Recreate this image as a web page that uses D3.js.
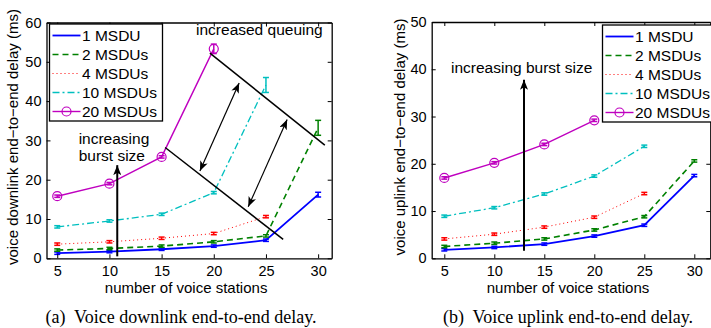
<!DOCTYPE html>
<html>
<head>
<meta charset="utf-8">
<script src="https://cdn.jsdelivr.net/npm/d3@7"></script>
<style>
  body { margin: 0; background: #fff; }
  svg text { font-family: "Liberation Sans", Arial, sans-serif; fill: #000; }
  svg text.caption { font-family: "Liberation Serif", "Times New Roman", serif; white-space: pre; }
</style>
</head>
<body>
<svg id="chart" width="711" height="328"></svg>
<script>
// number of voice stations on the x axis
const stations = [5, 10, 15, 20, 25, 30];
const seriesNames = ['1 MSDU', '2 MSDUs', '4 MSDUs', '10 MSDUs', '20 MSDUs'];

// (a) downlink delay (ms), null = not plotted
const down1 = [1.3, 1.7, 2.3, 3.1, 4.6, 16.2];
const down2 = [2.1, 2.5, 3.1, 4.2, 5.7, 33.2];
const down4 = [3.6, 4.2, 5.1, 6.3, 10.6, null];
const down10 = [8.0, 9.5, 11.2, 16.7, 44.1, null];
const down20 = [15.8, 19.0, 25.8, 53.3, null, null];
// half-width of the confidence bars (ms)
const downErr1 = [0.3, 0.3, 0.3, 0.3, 0.3, 0.6];
const downErr2 = [0.3, 0.3, 0.3, 0.3, 0.3, 1.9];
const downErr4 = [0.3, 0.3, 0.3, 0.3, 0.3, null];
const downErr10 = [0.3, 0.3, 0.3, 0.3, 1.9, null];
const downErr20 = [0.3, 0.3, 0.3, 1.2, null, null];

// (b) uplink delay (ms)
const up1 = [1.8, 2.3, 3.0, 4.7, 7.0, 17.5];
const up2 = [2.5, 3.2, 4.1, 6.0, 8.8, 20.6];
const up4 = [4.1, 5.1, 6.6, 8.7, 13.7, null];
const up10 = [8.9, 10.7, 13.6, 17.4, 23.7, null];
const up20 = [17.0, 20.2, 24.1, 29.2, null, null];
const upErr = [0.25, 0.25, 0.25, 0.25, 0.25, 0.25];

const downTicks = [0, 10, 20, 30, 40, 50, 60];
const upTicks = [0, 10, 20, 30, 40, 50];

const colors = ['#0000ff', '#008000', '#ff0000', '#00bfbf', '#bf00bf'];
const dashes = [null, '6,4', '1,3', '7,3,2,3', null];
const widths = [1.8, 1.6, 1, 1.3, 1.4];
const FS = 15.5;
const TICK_FS = 14.5;

const svg = d3.select('#chart');

svg.append('defs').append('marker')
  .attr('id', 'head')
  .attr('viewBox', '0 0 10 8')
  .attr('refX', 10).attr('refY', 4)
  .attr('markerWidth', 10).attr('markerHeight', 8)
  .attr('markerUnits', 'userSpaceOnUse')
  .attr('orient', 'auto-start-reverse')
  .append('path')
  .attr('d', 'M0,0 L10,4 L0,8 L2.5,4 Z')
  .attr('fill', '#000');

function drawPanel(p) {
  const g = svg.append('g');
  const x = d3.scaleLinear().domain(p.xDomain).range([p.left, p.right]);
  const y = d3.scaleLinear().domain([0, p.yMax]).range([p.bottom, p.top]);

  // series lines
  p.series.forEach((vals, i) => {
    const pts = stations.map((s, j) => ({ s, v: vals[j], e: p.errs[i][j] }))
      .filter(d => d.v != null);
    const line = d3.line().x(d => x(d.s)).y(d => y(d.v));
    g.append('path')
      .datum(pts)
      .attr('fill', 'none')
      .attr('stroke', colors[i])
      .attr('stroke-width', widths[i])
      .attr('stroke-dasharray', dashes[i])
      .attr('d', line);

    // error bars
    const eb = g.append('g').attr('stroke', colors[i]).attr('stroke-width', 1.5);
    pts.forEach(d => {
      const y0 = y(d.v - d.e), y1 = y(d.v + d.e), cx = x(d.s);
      eb.append('line').attr('x1', cx).attr('x2', cx).attr('y1', y0).attr('y2', y1);
      eb.append('line').attr('x1', cx - 3).attr('x2', cx + 3).attr('y1', y0).attr('y2', y0);
      eb.append('line').attr('x1', cx - 3).attr('x2', cx + 3).attr('y1', y1).attr('y2', y1);
    });

    if (i === 4) {
      g.selectAll(null).data(pts).enter().append('circle')
        .attr('cx', d => x(d.s)).attr('cy', d => y(d.v)).attr('r', 4.5)
        .attr('fill', 'none').attr('stroke', colors[i]).attr('stroke-width', 1.2);
    }
  });

  // axes box with inward ticks on all sides
  const bottomAxis = d3.axisBottom(x).tickValues(stations).tickSizeInner(-4).tickSizeOuter(0).tickPadding(7.5);
  const topAxis = d3.axisTop(x).tickValues(stations).tickSizeInner(-4).tickSizeOuter(0).tickFormat('');
  const leftAxis = d3.axisLeft(y).tickValues(p.yTicks).tickSizeInner(-4).tickSizeOuter(0).tickPadding(5);
  const rightAxis = d3.axisRight(y).tickValues(p.yTicks).tickSizeInner(-4).tickSizeOuter(0).tickFormat('');

  const axes = [
    g.append('g').attr('transform', `translate(0,${p.bottom})`).call(bottomAxis),
    g.append('g').attr('transform', `translate(0,${p.top})`).call(topAxis),
    g.append('g').attr('transform', `translate(${p.left},0)`).call(leftAxis),
    g.append('g').attr('transform', `translate(${p.right},0)`).call(rightAxis)
  ];
  axes.forEach(a => {
    a.select('.domain').attr('stroke', '#000').attr('stroke-width', 1.3);
    a.selectAll('.tick line').attr('stroke', '#000');
    a.selectAll('.tick text').attr('font-size', TICK_FS).attr('font-family', null);
  });

  // axis titles
  g.append('text')
    .attr('x', (p.left + p.right) / 2 - 3).attr('y', 293)
    .attr('text-anchor', 'middle').attr('font-size', 15)
    .text('number of voice stations');
  g.append('text')
    .attr('transform', `translate(${p.yLabelX},137) rotate(-90)`)
    .attr('text-anchor', 'middle').attr('font-size', 15)
    .text(p.yLabel);

  // caption
  g.append('text').attr('class', 'caption')
    .attr('x', p.captionX).attr('y', 322.5)
    .attr('text-anchor', 'middle').attr('font-size', 18)
    .text(p.caption);

  // legend
  const lg = g.append('g').attr('transform', `translate(${p.legendX},${p.legendY})`);
  lg.append('rect').attr('width', 113).attr('height', 97)
    .attr('fill', '#fff').attr('stroke', '#000').attr('stroke-width', 1.3);
  seriesNames.forEach((name, i) => {
    const ly = 11.5 + i * 19;
    lg.append('line').attr('x1', 3).attr('x2', 31).attr('y1', ly).attr('y2', ly)
      .attr('stroke', colors[i]).attr('stroke-width', widths[i])
      .attr('stroke-dasharray', dashes[i]);
    if (i === 4) {
      lg.append('circle').attr('cx', 17).attr('cy', ly).attr('r', 4.5)
        .attr('fill', 'none').attr('stroke', colors[i]).attr('stroke-width', 1.2);
    }
    lg.append('text').attr('x', 32.5).attr('y', ly + 5.5).attr('font-size', FS).text(name);
  });

  p.annotate(g, x, y);
}

drawPanel({
  left: 46.5, right: 331.7, top: 22.5, bottom: 258.3,
  xDomain: [3.97, 31.3], yMax: 60, yTicks: downTicks,
  series: [down1, down2, down4, down10, down20],
  errs: [downErr1, downErr2, downErr4, downErr10, downErr20],
  yLabel: 'voice downlink end\u2212to\u2212end delay (ms)', yLabelX: 17.5,
  caption: '(a)  Voice downlink end-to-end delay.', captionX: 181,
  legendX: 49.5, legendY: 24,
  annotate(g, x, y) {
    g.append('line')
      .attr('x1', x(19.63)).attr('y1', y(52.2)).attr('x2', x(30.64)).attr('y2', y(28.8))
      .attr('stroke', '#000').attr('stroke-width', 1.5);
    g.append('line')
      .attr('x1', x(15.34)).attr('y1', y(28.2)).attr('x2', x(26.65)).attr('y2', y(4.8))
      .attr('stroke', '#000').attr('stroke-width', 1.5);
    [[18.67, 22.2, 22.43, 44.6], [23.3, 13.1, 27.03, 35.3]].forEach(a => {
      g.append('line')
        .attr('x1', x(a[0])).attr('y1', y(a[1])).attr('x2', x(a[2])).attr('y2', y(a[3]))
        .attr('stroke', '#000').attr('stroke-width', 1.2)
        .attr('marker-start', 'url(#head)').attr('marker-end', 'url(#head)');
    });
    g.append('line')
      .attr('x1', x(10.75)).attr('y1', y(0.5)).attr('x2', x(10.75)).attr('y2', y(23.7))
      .attr('stroke', '#000').attr('stroke-width', 2)
      .attr('marker-end', 'url(#head)');
    g.append('text').attr('x', x(18.3)).attr('y', y(56.7)).attr('font-size', FS).text('increased queuing');
    g.append('text').attr('x', x(7.05)).attr('y', y(29.1)).attr('font-size', FS).text('increasing');
    g.append('text').attr('x', x(7.05)).attr('y', y(24.8)).attr('font-size', FS).text('burst size');
  }
});

drawPanel({
  left: 431.7, right: 710.3, top: 22, bottom: 258.3,
  xDomain: [3.74, 31.6], yMax: 50, yTicks: upTicks,
  series: [up1, up2, up4, up10, up20],
  errs: [upErr, upErr, upErr, upErr, upErr],
  yLabel: 'voice uplink end\u2212to\u2212end delay (ms)', yLabelX: 404.5,
  caption: '(b)  Voice uplink end-to-end delay.', captionX: 568,
  legendX: 602.5, legendY: 25,
  annotate(g, x, y) {
    g.append('line')
      .attr('x1', x(12.97)).attr('y1', y(1.6)).attr('x2', x(12.97)).attr('y2', y(37.8))
      .attr('stroke', '#000').attr('stroke-width', 2)
      .attr('marker-end', 'url(#head)');
    g.append('text').attr('x', x(5.67)).attr('y', y(39.2)).attr('font-size', FS).text('increasing burst size');
  }
});
</script>
</body>
</html>
